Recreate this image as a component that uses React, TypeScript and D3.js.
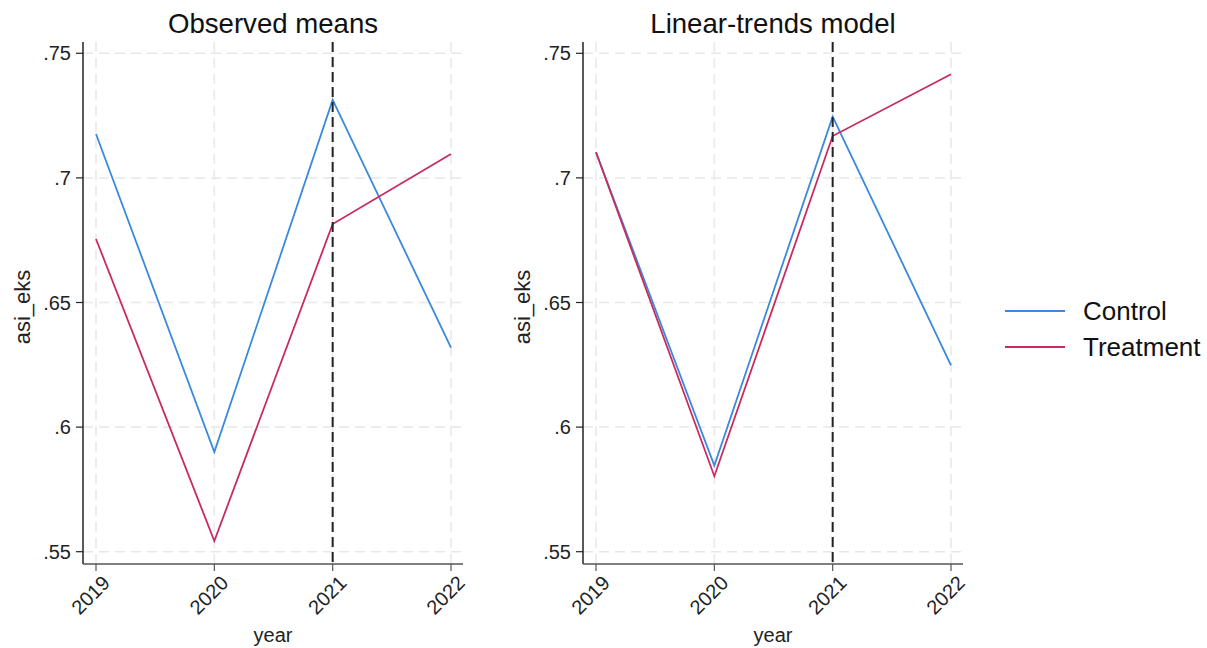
import React from "react";
import * as d3 from "d3";

const years = [2019, 2020, 2021, 2022];
const yTicks = [0.55, 0.6, 0.65, 0.7, 0.75];
const tickLabels = [".55", ".6", ".65", ".7", ".75"];

const observedControl = [0.7176, 0.5900, 0.7313, 0.6319];
const observedTreatment = [0.6755, 0.5543, 0.6815, 0.7096];
const trendControl = [0.7103, 0.5846, 0.7246, 0.6248];
const trendTreatment = [0.7103, 0.5803, 0.7168, 0.7416];

const titles = ["Observed means", "Linear-trends model"];
const seriesNames = ["Control", "Treatment"];
const colors = ["#3a89dc", "#c92b5f"];
const treatYear = 2021;

const font = "'Liberation Sans', Arial, sans-serif";
const width = 1207;
const height = 648;
const plotTop = 42;
const plotBottom = 564;
const panelLeft = [83, 583];
const panelWidth = 380;

const yScale = d3.scaleLinear().domain([0.55, 0.75]).range([551.7, 53.3]);

interface IPanelProps {
  left: number;
  title: string;
  data: number[][];
}

function Panel({ left, title, data }: IPanelProps) {
  const x = d3.scaleLinear().domain([2019, 2022]).range([left + 13, left + 368]);
  const right = left + panelWidth;
  const line = d3
    .line<number>()
    .x((_, i) => x(years[i]))
    .y((d) => yScale(d));

  return (
    <g>
      <text x={left + 190} y={33} textAnchor="middle" fontSize={27.6} fill="#111">
        {title}
      </text>
      {/* grid */}
      {yTicks.map((t) => (
        <line
          key={"gy" + t}
          x1={left}
          x2={right + 2}
          y1={yScale(t)}
          y2={yScale(t)}
          stroke="#e8e8e8"
          strokeWidth={1.5}
          strokeDasharray="10 6"
        />
      ))}
      {years.map((yr) => (
        <line
          key={"gx" + yr}
          x1={x(yr)}
          x2={x(yr)}
          y1={plotTop}
          y2={plotBottom}
          stroke="#e8e8e8"
          strokeWidth={1.5}
          strokeDasharray="10 6"
        />
      ))}
      {/* series */}
      {data.map((s, i) => (
        <path
          key={"s" + i}
          d={line(s) || ""}
          fill="none"
          stroke={colors[i]}
          strokeWidth={1.8}
        />
      ))}
      {/* treatment year */}
      <line
        x1={x(treatYear)}
        x2={x(treatYear)}
        y1={plotTop}
        y2={plotBottom}
        stroke="#222"
        strokeWidth={2}
        strokeDasharray="10 5"
      />
      {/* axes */}
      <line x1={left} x2={left} y1={plotTop} y2={plotBottom} stroke="#222" strokeWidth={1.5} />
      <line x1={left} x2={right} y1={plotBottom} y2={plotBottom} stroke="#555" strokeWidth={1.5} />
      {yTicks.map((t, i) => (
        <g key={"yt" + t}>
          <line x1={left - 7} x2={left} y1={yScale(t)} y2={yScale(t)} stroke="#222" strokeWidth={1.2} />
          <text
            x={left - 12}
            y={yScale(t)}
            dy="0.35em"
            textAnchor="end"
            fontSize={20}
            fill="#222"
          >
            {tickLabels[i]}
          </text>
        </g>
      ))}
      {years.map((yr) => (
        <g key={"xt" + yr}>
          <line x1={x(yr)} x2={x(yr)} y1={plotBottom} y2={plotBottom + 7} stroke="#555" strokeWidth={1.2} />
          <text
            transform={`translate(${x(yr) + 5},${plotBottom + 10}) rotate(-45)`}
            textAnchor="end"
            dy="0.72em"
            fontSize={20}
            fill="#222"
          >
            {yr}
          </text>
        </g>
      ))}
      <text x={left + 190} y={642} textAnchor="middle" fontSize={20} fill="#222">
        year
      </text>
      <text
        transform={`translate(${left - 53},${(plotTop + plotBottom) / 2 + 4}) rotate(-90)`}
        textAnchor="middle"
        fontSize={22}
        fill="#222"
      >
        asi_eks
      </text>
    </g>
  );
}

export default function App(): JSX.Element {
  const panels = [
    [observedControl, observedTreatment],
    [trendControl, trendTreatment],
  ];
  return (
    <svg
      width={width}
      height={height}
      style={{ position: "absolute", left: 0, top: 0, background: "#fff" }}
      fontFamily={font}
    >
      {panels.map((p, i) => (
        <Panel key={i} left={panelLeft[i]} title={titles[i]} data={p} />
      ))}
      {seriesNames.map((n, i) => (
        <g key={n}>
          <line
            x1={1005}
            x2={1065}
            y1={311 + i * 36}
            y2={311 + i * 36}
            stroke={colors[i]}
            strokeWidth={2}
          />
          <text x={1083} y={311 + i * 36} dy="0.35em" fontSize={26} fill="#111">
            {n}
          </text>
        </g>
      ))}
    </svg>
  );
}
